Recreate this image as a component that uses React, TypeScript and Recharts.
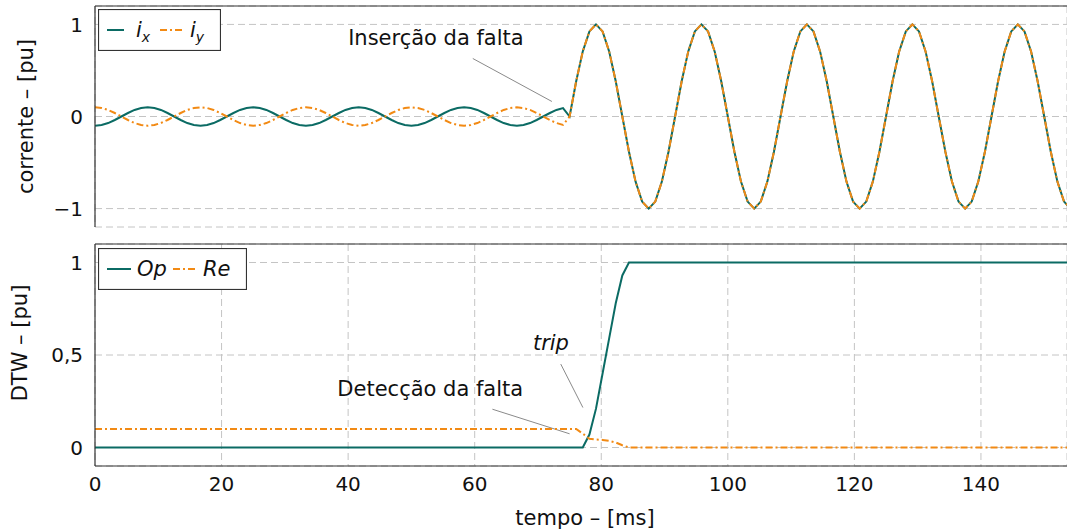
import React from 'react';
import { LineChart, Line, XAxis, YAxis, CartesianGrid, ReferenceLine, ReferenceDot } from 'recharts';

// sample times (ms), 16 samples per 60 Hz cycle
const time = [
  0, 1.04, 2.08, 3.13, 4.17, 5.21, 6.25, 7.29, 8.33, 9.38, 10.42, 11.46, 12.5, 13.54, 14.58, 15.63,
  16.67, 17.71, 18.75, 19.79, 20.83, 21.88, 22.92, 23.96, 25, 26.04, 27.08, 28.13, 29.17, 30.21, 31.25, 32.29,
  33.33, 34.38, 35.42, 36.46, 37.5, 38.54, 39.58, 40.63, 41.67, 42.71, 43.75, 44.79, 45.83, 46.88, 47.92, 48.96,
  50, 51.04, 52.08, 53.13, 54.17, 55.21, 56.25, 57.29, 58.33, 59.38, 60.42, 61.46, 62.5, 63.54, 64.58, 65.63,
  66.67, 67.71, 68.75, 69.79, 70.83, 71.88, 72.92, 73.96, 75, 76.04, 77.08, 78.13, 79.17, 80.21, 81.25, 82.29,
  83.33, 84.38, 85.42, 86.46, 87.5, 88.54, 89.58, 90.63, 91.67, 92.71, 93.75, 94.79, 95.83, 96.88, 97.92, 98.96,
  100, 101.04, 102.08, 103.13, 104.17, 105.21, 106.25, 107.29, 108.33, 109.38, 110.42, 111.46, 112.5, 113.54, 114.58, 115.63,
  116.67, 117.71, 118.75, 119.79, 120.83, 121.88, 122.92, 123.96, 125, 126.04, 127.08, 128.13, 129.17, 130.21, 131.25, 132.29,
  133.33, 134.38, 135.42, 136.46, 137.5, 138.54, 139.58, 140.63, 141.67, 142.71, 143.75, 144.79, 145.83, 146.88, 147.92, 148.96,
  150, 151.04, 152.08, 153.13, 154.17,
];

const ixValues = [
  -0.1, -0.092, -0.071, -0.038, 0, 0.038, 0.071, 0.092, 0.1, 0.092, 0.071, 0.038, 0, -0.038, -0.071, -0.092,
  -0.1, -0.092, -0.071, -0.038, 0, 0.038, 0.071, 0.092, 0.1, 0.092, 0.071, 0.038, 0, -0.038, -0.071, -0.092,
  -0.1, -0.092, -0.071, -0.038, 0, 0.038, 0.071, 0.092, 0.1, 0.092, 0.071, 0.038, 0, -0.038, -0.071, -0.092,
  -0.1, -0.092, -0.071, -0.038, 0, 0.038, 0.071, 0.092, 0.1, 0.092, 0.071, 0.038, 0, -0.038, -0.071, -0.092,
  -0.1, -0.092, -0.071, -0.038, 0, 0.038, 0.071, 0.092,
  0, 0.383, 0.707, 0.924, 1, 0.924, 0.707, 0.383, 0, -0.383, -0.707, -0.924, -1, -0.924, -0.707, -0.383,
  0, 0.383, 0.707, 0.924, 1, 0.924, 0.707, 0.383, 0, -0.383, -0.707, -0.924, -1, -0.924, -0.707, -0.383,
  0, 0.383, 0.707, 0.924, 1, 0.924, 0.707, 0.383, 0, -0.383, -0.707, -0.924, -1, -0.924, -0.707, -0.383,
  0, 0.383, 0.707, 0.924, 1, 0.924, 0.707, 0.383, 0, -0.383, -0.707, -0.924, -1, -0.924, -0.707, -0.383,
  0, 0.383, 0.707, 0.924, 1, 0.924, 0.707, 0.383, 0, -0.383, -0.707, -0.924, -1,
];

const iyValues = [
  0.1, 0.092, 0.071, 0.038, 0, -0.038, -0.071, -0.092, -0.1, -0.092, -0.071, -0.038, 0, 0.038, 0.071, 0.092,
  0.1, 0.092, 0.071, 0.038, 0, -0.038, -0.071, -0.092, -0.1, -0.092, -0.071, -0.038, 0, 0.038, 0.071, 0.092,
  0.1, 0.092, 0.071, 0.038, 0, -0.038, -0.071, -0.092, -0.1, -0.092, -0.071, -0.038, 0, 0.038, 0.071, 0.092,
  0.1, 0.092, 0.071, 0.038, 0, -0.038, -0.071, -0.092, -0.1, -0.092, -0.071, -0.038, 0, 0.038, 0.071, 0.092,
  0.1, 0.092, 0.071, 0.038, 0, -0.038, -0.071, -0.092,
  0, 0.383, 0.707, 0.924, 1, 0.924, 0.707, 0.383, 0, -0.383, -0.707, -0.924, -1, -0.924, -0.707, -0.383,
  0, 0.383, 0.707, 0.924, 1, 0.924, 0.707, 0.383, 0, -0.383, -0.707, -0.924, -1, -0.924, -0.707, -0.383,
  0, 0.383, 0.707, 0.924, 1, 0.924, 0.707, 0.383, 0, -0.383, -0.707, -0.924, -1, -0.924, -0.707, -0.383,
  0, 0.383, 0.707, 0.924, 1, 0.924, 0.707, 0.383, 0, -0.383, -0.707, -0.924, -1, -0.924, -0.707, -0.383,
  0, 0.383, 0.707, 0.924, 1, 0.924, 0.707, 0.383, 0, -0.383, -0.707, -0.924, -1,
];

// DTW outputs only change around the fault
const dtwTime = [0, 75, 76.04, 77.08, 78.13, 79.17, 80.21, 81.25, 82.29, 83.33, 84.38, 154.17];
const opValues = [0, 0, 0, 0, 0.07, 0.21, 0.4, 0.59, 0.78, 0.93, 1, 1];
const reValues = [0.1, 0.1, 0.1, 0.075, 0.047, 0.043, 0.041, 0.036, 0.027, 0.012, 0, 0];

const xTicks = [0, 20, 40, 60, 80, 100, 120, 140];
const currentTicks = [-1, 0, 1];
const dtwTicks = [0, 0.5, 1];

const currentData = time.map((t, i) => ({ t, ix: ixValues[i], iy: iyValues[i] }));
const dtwData = dtwTime.map((t, i) => ({ t, op: opValues[i], re: reValues[i] }));

const TEAL = '#0b6b64';
const ORANGE = '#f28a14';
const FRAME = '#333';
const GRID = '#c4c4c4';
const TEXT = '#111';
const DASHDOT = '7 3 2 3';
const X_DOMAIN: [number, number] = [0, 153.6];
const LABEL_SIZE = 21;

const yLabel = (text: string, x: number, shift: number) => (props: any) => {
  const vb = props.viewBox || { y: 0, height: 0 };
  const cy = vb.y + vb.height / 2 + shift;
  return (
    <text x={x} y={cy} transform={`rotate(-90 ${x} ${cy})`} textAnchor="middle" fontSize={LABEL_SIZE} fill={TEXT}>
      {text}
    </text>
  );
};

const note = (text: string, italic = false) => (props: any) => {
  const vb = props.viewBox || { x: 0, y: 0 };
  return (
    <text x={vb.x} y={vb.y} dominantBaseline="central" fontSize={LABEL_SIZE} fill={TEXT} fontStyle={italic ? 'italic' : 'normal'}>
      {text}
    </text>
  );
};

function LegendBox({ left, top, width, entries }: { left: number; top: number; width: number; entries: any[] }) {
  return (
    <svg style={{ position: 'absolute', left, top }} width={width} height={42}>
      <rect x={0.5} y={0.5} width={width - 1} height={41} fill="#fff" stroke={FRAME} strokeWidth={1.2} />
      {entries.map((e, i) => (
        <g key={i}>
          <line x1={e.x1} x2={e.x2} y1={21} y2={21} stroke={e.color} strokeWidth={2} strokeDasharray={e.dash} />
          <text x={e.tx} y={28} fontSize={LABEL_SIZE} fontStyle="italic" fill={TEXT}>
            {e.label}
            {e.sub && (
              <tspan fontSize={14} dy={5}>
                {e.sub}
              </tspan>
            )}
          </text>
        </g>
      ))}
    </svg>
  );
}

export default function App() {
  const axisLine = { stroke: FRAME, strokeWidth: 1.2 };
  const innerTick = { stroke: '#555', strokeWidth: 1 };
  return (
    <div style={{ position: 'absolute', left: 0, top: 0, width: 1067, height: 532, fontFamily: 'DejaVu Sans', background: '#fff' }}>
      <div style={{ position: 'absolute', left: 0, top: 0 }}>
        <LineChart width={1067} height={232} data={currentData} margin={{ top: 6, right: 0, bottom: 5, left: 0 }}>
          <CartesianGrid stroke={GRID} strokeDasharray="7 4" />
          <XAxis dataKey="t" type="number" domain={X_DOMAIN} ticks={xTicks} allowDataOverflow height={0} tick={false} tickLine={false} axisLine={axisLine} />
          <XAxis xAxisId="bm" dataKey="t" type="number" domain={X_DOMAIN} ticks={xTicks} allowDataOverflow mirror tick={false} tickSize={10} tickLine={innerTick} axisLine={false} />
          <XAxis xAxisId="tm" dataKey="t" orientation="top" type="number" domain={X_DOMAIN} ticks={xTicks} allowDataOverflow mirror tick={false} tickSize={10} tickLine={innerTick} axisLine={axisLine} />
          <YAxis
            width={95}
            type="number"
            domain={[-1.2, 1.2]}
            ticks={currentTicks}
            allowDataOverflow
            tickFormatter={(v: number) => (v < 0 ? `\u2212${Math.abs(v)}` : `${v}`)}
            tick={{ fill: TEXT, fontSize: 20 }}
            tickLine={false}
            tickMargin={6}
            axisLine={axisLine}
            label={{ content: yLabel('corrente – [pu]', 33, 0) }}
          />
          <YAxis yAxisId="lm" type="number" domain={[-1.2, 1.2]} ticks={currentTicks} allowDataOverflow mirror tick={false} tickSize={10} tickLine={innerTick} axisLine={false} />
          <ReferenceLine segment={[{ x: 59.7, y: 0.63 }, { x: 72.2, y: 0.163 }]} stroke="#8a8a8a" strokeWidth={1} />
          <ReferenceDot x={40} y={0.848} r={0} fill="none" stroke="none" label={{ content: note('Inserção da falta') }} />
          <Line type="linear" dataKey="ix" stroke={TEAL} strokeWidth={2} dot={false} isAnimationActive={false} />
          <Line type="linear" dataKey="iy" stroke={ORANGE} strokeWidth={2} strokeDasharray={DASHDOT} dot={false} isAnimationActive={false} />
        </LineChart>
      </div>
      <div style={{ position: 'absolute', left: 0, top: 236 }}>
        <LineChart width={1067} height={296} data={dtwData} margin={{ top: 8, right: 0, bottom: 0, left: 0 }}>
          <CartesianGrid stroke={GRID} strokeDasharray="7 4" />
          <XAxis
            dataKey="t"
            type="number"
            domain={X_DOMAIN}
            ticks={xTicks}
            allowDataOverflow
            height={66}
            tick={{ fill: TEXT, fontSize: 20 }}
            tickLine={false}
            tickMargin={5}
            axisLine={axisLine}
            label={{
              content: (props: any) => {
                const vb = props.viewBox || { x: 95, y: 230, width: 972 };
                return (
                  <text x={vb.x + vb.width / 2 + 4} y={vb.y + 59} textAnchor="middle" fontSize={LABEL_SIZE} fill={TEXT}>
                    tempo – [ms]
                  </text>
                );
              },
            }}
          />
          <XAxis xAxisId="bm" dataKey="t" type="number" domain={X_DOMAIN} ticks={xTicks} allowDataOverflow mirror tick={false} tickSize={10} tickLine={innerTick} axisLine={false} />
          <XAxis xAxisId="tm" dataKey="t" orientation="top" type="number" domain={X_DOMAIN} ticks={xTicks} allowDataOverflow mirror tick={false} tickSize={10} tickLine={innerTick} axisLine={axisLine} />
          <YAxis
            width={95}
            type="number"
            domain={[-0.1, 1.1]}
            ticks={dtwTicks}
            allowDataOverflow
            tickFormatter={(v: number) => `${v}`.replace('.', ',')}
            tick={{ fill: TEXT, fontSize: 20 }}
            tickLine={false}
            tickMargin={6}
            axisLine={axisLine}
            label={{ content: yLabel('DTW – [pu]', 27, -12) }}
          />
          <YAxis yAxisId="lm" type="number" domain={[-0.1, 1.1]} ticks={dtwTicks} allowDataOverflow mirror tick={false} tickSize={10} tickLine={innerTick} axisLine={false} />
          <ReferenceLine segment={[{ x: 73.6, y: 0.451 }, { x: 77.1, y: 0.216 }]} stroke="#8a8a8a" strokeWidth={1} />
          <ReferenceLine segment={[{ x: 62.8, y: 0.207 }, { x: 75.0, y: 0.074 }]} stroke="#8a8a8a" strokeWidth={1} />
          <ReferenceDot x={69.2} y={0.567} r={0} fill="none" stroke="none" label={{ content: note('trip', true) }} />
          <ReferenceDot x={38.3} y={0.317} r={0} fill="none" stroke="none" label={{ content: note('Detecção da falta') }} />
          <Line type="linear" dataKey="op" stroke={TEAL} strokeWidth={2} dot={false} isAnimationActive={false} />
          <Line type="linear" dataKey="re" stroke={ORANGE} strokeWidth={2} strokeDasharray={DASHDOT} dot={false} isAnimationActive={false} />
        </LineChart>
      </div>
      <LegendBox
        left={98}
        top={9}
        width={123}
        entries={[
          { x1: 9, x2: 26, color: TEAL, tx: 38, label: 'i', sub: 'x' },
          { x1: 62, x2: 85, color: ORANGE, dash: DASHDOT, tx: 92, label: 'i', sub: 'y' },
        ]}
      />
      <LegendBox
        left={98}
        top={248}
        width={149}
        entries={[
          { x1: 9, x2: 33, color: TEAL, tx: 39, label: 'Op' },
          { x1: 75, x2: 99, color: ORANGE, dash: DASHDOT, tx: 105, label: 'Re' },
        ]}
      />
    </div>
  );
}
